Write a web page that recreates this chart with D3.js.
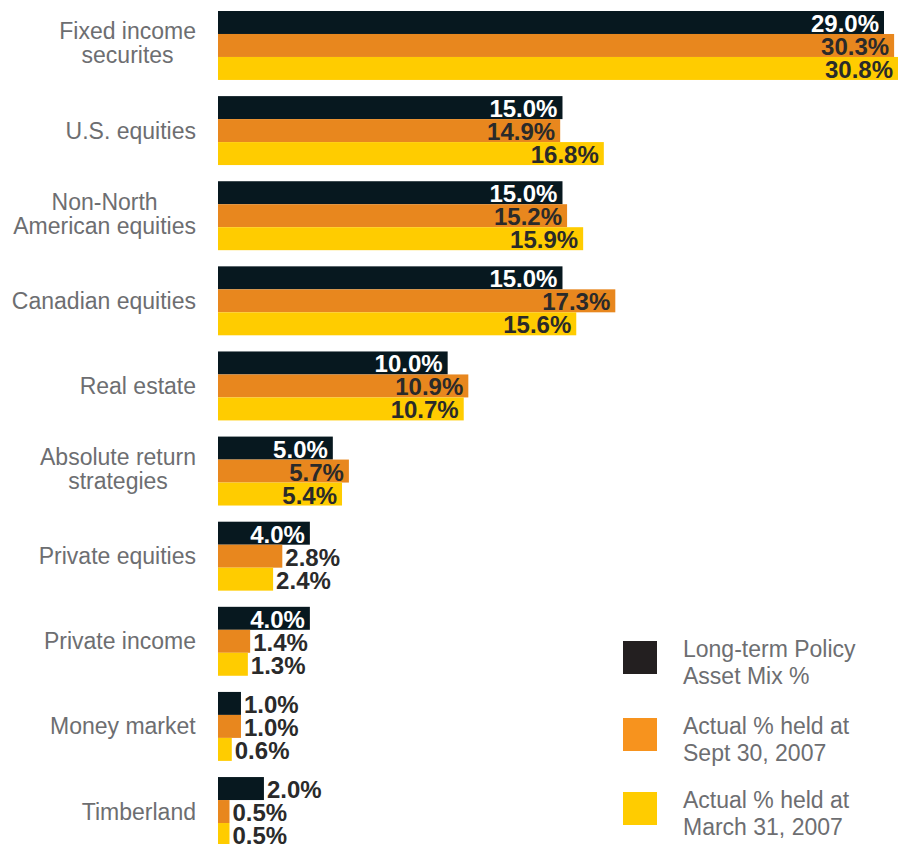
<!DOCTYPE html>
<html>
<head>
<meta charset="utf-8">
<script src="https://cdn.jsdelivr.net/npm/d3@7"></script>
<style>
  body { margin: 0; background: #fff; }
  svg { display: block; font-family: "Liberation Sans", Arial, sans-serif; }
</style>
</head>
<body>
<svg width="899" height="844"></svg>
<script>
// data
const categories = [
  "Fixed income\nsecurites", "U.S. equities", "Non-North\nAmerican equities",
  "Canadian equities", "Real estate", "Absolute return\nstrategies",
  "Private equities", "Private income", "Money market", "Timberland"
];
const policyMix = [29.0, 15.0, 15.0, 15.0, 10.0, 5.0, 4.0, 4.0, 1.0, 2.0];
const heldSept = [30.3, 14.9, 15.2, 17.3, 10.9, 5.7, 2.8, 1.4, 1.0, 0.5];
const heldMarch = [30.8, 16.8, 15.9, 15.6, 10.7, 5.4, 2.4, 1.3, 0.6, 0.5];
const seriesNames = ["Long-term Policy\nAsset Mix %", "Actual % held at\nSept 30, 2007", "Actual % held at\nMarch 31, 2007"];

const colors = ["#07181f", "#e8871e", "#ffcc00"];
const legendColors = ["#231f20", "#f7931e", "#ffcc00"];

const series = [policyMix, heldSept, heldMarch];
const rows = categories.map((c, i) => ({cat: c, values: series.map(s => s[i])}));

const svg = d3.select("svg");

// the top group in the original is squeezed to fit the page
const x = d3.scaleLinear().domain([0, 29, 30.8]).range([218, 884, 898]);
const y = d3.scaleBand().domain(categories).range([11, 846]).paddingInner(0.19);
const ySub = d3.scaleBand().domain([0, 1, 2]).range([0, y.bandwidth()]);

const groups = svg.selectAll(".grp")
  .data(rows)
  .enter().append("g")
  .attr("class", "grp")
  .attr("transform", d => `translate(0,${y(d.cat)})`);

const bars = groups.selectAll(".bar")
  .data(d => d.values.map((v, k) => ({v, k})))
  .enter().append("g");

bars.append("rect")
  .attr("x", x(0))
  .attr("y", d => ySub(d.k))
  .attr("width", d => x(d.v) - x(0))
  .attr("height", ySub.bandwidth())
  .attr("fill", d => colors[d.k]);

bars.append("text")
  .attr("x", d => (x(d.v) - x(0) > 80) ? x(d.v) - 5 : x(d.v) + 3)
  .attr("y", d => ySub(d.k) + 21)
  .attr("text-anchor", d => (x(d.v) - x(0) > 80) ? "end" : "start")
  .attr("font-size", 24)
  .attr("font-weight", "bold")
  .attr("fill", d => (d.k === 0 && x(d.v) - x(0) > 80) ? "#fff" : "#2a2a2a")
  .text(d => d.v.toFixed(1) + "%");

// category labels, right edge at 196, lines centred on each other
groups.each(function(d) {
  const lines = d.cat.split("\n");
  const t = d3.select(this).append("text")
    .attr("font-size", 23)
    .attr("fill", "#6d6e71")
    .attr("text-anchor", "middle");
  const mid = y.bandwidth() / 2;
  const first = mid + 8 - (lines.length - 1) * 12 - (lines.length > 1 ? 2 : 0);
  lines.forEach((l, i) => {
    t.append("tspan").attr("x", 0).attr("y", first + i * 24).text(l);
  });
  const w = t.node().getBBox().width;
  t.selectAll("tspan").attr("x", 196 - w / 2);
});

// legend
const legend = svg.append("g");
const legendTops = [641, 718, 792];
seriesNames.forEach((name, i) => {
  legend.append("rect")
    .attr("x", 623).attr("y", legendTops[i])
    .attr("width", 34).attr("height", 33)
    .attr("fill", legendColors[i]);
  const t = legend.append("text")
    .attr("font-size", 23)
    .attr("fill", "#6d6e71");
  name.split("\n").forEach((l, j) => {
    t.append("tspan").attr("x", 683).attr("y", legendTops[i] + 16 + j * 26.5).text(l);
  });
});
</script>
</body>
</html>
